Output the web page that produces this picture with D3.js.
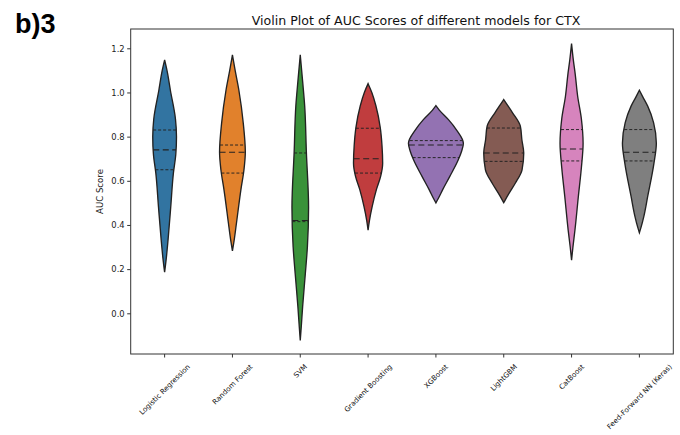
<!DOCTYPE html>
<html><head><meta charset="utf-8">
<script src="https://cdn.jsdelivr.net/npm/d3@7"></script>
<style>
body{margin:0;background:#fff;}
svg{display:block;font-family:"DejaVu Sans",sans-serif;}
</style></head>
<body><svg id="chart" width="680" height="435"></svg>
<script>
const models = ["Logistic Regression","Random Forest","SVM","Gradient Boosting","XGBoost","LightGBM","CatBoost","Feed-Forward NN (Keras)"];
const colors = ["#3274a1","#e1812c","#3a923a","#c03d3e","#9372b2","#845b53","#d684bd","#7f7f7f"];
const yTicks = [0.0,0.2,0.4,0.6,0.8,1.0,1.2];

// violin outlines: [AUC value, relative density]
const lrShape  = [[1.147,0],[1.10,0.07],[1.01,0.17],[0.88,0.32],[0.80,0.35],[0.72,0.33],[0.636,0.26],[0.48,0.18],[0.33,0.10],[0.25,0.05],[0.186,0]];
const rfShape  = [[1.17,0],[1.10,0.08],[1.01,0.19],[0.86,0.32],[0.73,0.38],[0.65,0.34],[0.56,0.25],[0.41,0.12],[0.33,0.05],[0.283,0]];
const svmShape = [[1.17,0],[1.05,0.07],[0.94,0.13],[0.73,0.18],[0.48,0.245],[0.30,0.21],[0.18,0.15],[0.03,0.07],[-0.06,0.03],[-0.123,0]];
const gbShape  = [[1.04,0],[1.0,0.11],[0.94,0.23],[0.84,0.36],[0.76,0.41],[0.68,0.43],[0.62,0.37],[0.56,0.245],[0.483,0.12],[0.42,0.04],[0.377,0]];
const xgbShape = [[0.94,0],[0.92,0.1],[0.877,0.37],[0.83,0.61],[0.77,0.81],[0.735,0.76],[0.695,0.66],[0.62,0.41],[0.56,0.2],[0.52,0.07],[0.50,0]];
const lgbShape = [[0.968,0],[0.945,0.1],[0.908,0.26],[0.847,0.49],[0.786,0.535],[0.726,0.59],[0.65,0.54],[0.589,0.34],[0.544,0.16],[0.515,0.05],[0.501,0]];
const catShape = [[1.221,0],[1.15,0.05],[1.08,0.11],[0.983,0.18],[0.88,0.29],[0.77,0.34],[0.66,0.29],[0.529,0.2],[0.377,0.1],[0.30,0.04],[0.241,0]];
const ffShape  = [[1.01,0],[0.98,0.1],[0.938,0.245],[0.862,0.42],[0.77,0.5],[0.68,0.43],[0.529,0.245],[0.438,0.13],[0.39,0.05],[0.365,0]];
const shapes = [lrShape,rfShape,svmShape,gbShape,xgbShape,lgbShape,catShape,ffShape];

// quartiles: [Q1, median, Q3]
const q1s     = [0.65, 0.635, 0.415, 0.635, 0.705, 0.688, 0.69, 0.69];
const medians = [0.74, 0.729, 0.42, 0.70, 0.762, 0.726, 0.744, 0.729];
const q3s     = [0.83, 0.762, 0.726, 0.838, 0.782, 0.839, 0.832, 0.832];

const svg = d3.select("#chart");
const L=130.7, R=673.3, T=29, B=354;
const x = d3.scaleBand().domain(models).range([L,R]).padding(0);
const y = d3.scaleLinear().domain([-0.1843,1.2874]).range([B,T]);
const w = d3.scaleLinear().domain([0,1]).range([0,x.bandwidth()/2]);

// violins
models.forEach((m,i)=>{
  const cx = x(m)+x.bandwidth()/2;
  const data = shapes[i];
  const area = d3.area()
    .y(d=>y(d[0])).x0(d=>cx-w(d[1])).x1(d=>cx+w(d[1]))
    .curve(d3.curveMonotoneY);
  svg.append("path").attr("d",area(data))
    .attr("fill",colors[i]).attr("stroke","#222").attr("stroke-width",1.35);
  const dens = v=>{
    for(let k=0;k<data.length-1;k++){
      const a=data[k], b=data[k+1];
      if(v<=a[0] && v>=b[0]){ const t=(a[0]-v)/(a[0]-b[0]); return a[1]+(b[1]-a[1])*t; }
    }
    return 0;
  };
  const lines = [[q1s[i],"3,2",0.95],[q3s[i],"3,2",0.95],[medians[i],"6,3.5",1.1]];
  lines.forEach(([v,dash,sw])=>{
    const hw = w(dens(v));
    svg.append("line").attr("x1",cx-hw).attr("x2",cx+hw).attr("y1",y(v)).attr("y2",y(v))
      .attr("stroke","#222").attr("stroke-width",sw).attr("stroke-dasharray",dash);
  });
});

// frame
svg.append("rect").attr("x",L).attr("y",T).attr("width",R-L).attr("height",B-T)
  .attr("fill","none").attr("stroke","#333").attr("stroke-width",1);

// y axis
const ya = svg.append("g").attr("transform",`translate(${L},0)`)
  .call(d3.axisLeft(y).tickValues(yTicks).tickFormat(d3.format(".1f")).tickSize(3.5).tickPadding(2.5));
ya.select(".domain").remove();
ya.selectAll("text").attr("font-size",8.4).attr("fill","#222").attr("font-family","DejaVu Sans");
ya.selectAll("line").attr("stroke","#333");

// x axis
const xa = svg.append("g").attr("transform",`translate(0,${B})`)
  .call(d3.axisBottom(x).tickSize(3.5).tickFormat(""));
xa.select(".domain").remove();
xa.selectAll("line").attr("stroke","#333");
const labelFs=7.1, labelTop=B+8.5;
models.forEach(m=>{
  const cx = x(m)+x.bandwidth()/2;
  const t = svg.append("text").text(m).attr("font-size",labelFs).attr("fill","#111")
    .attr("text-anchor","middle").attr("dominant-baseline","central");
  const tw = t.node().getComputedTextLength();
  const ext = (tw+labelFs*1.17)/Math.SQRT2;
  t.attr("transform",`translate(${cx},${labelTop+ext/2}) rotate(-45)`);
});

// labels
svg.append("text").attr("x",(L+R)/2+14).attr("y",25).attr("text-anchor","middle")
  .attr("font-size",12.6).attr("fill","#111").text("Violin Plot of AUC Scores of different models for CTX");
svg.append("text").attr("transform",`translate(103,${(T+B)/2}) rotate(-90)`).attr("text-anchor","middle")
  .attr("font-size",8.6).attr("fill","#222").text("AUC Score");
svg.append("text").attr("x",15).attr("y",32.5).attr("font-family","Liberation Sans, Arial, sans-serif")
  .attr("font-weight","bold").attr("font-size",27).attr("fill","#000").text("b)3");
</script></body></html>
